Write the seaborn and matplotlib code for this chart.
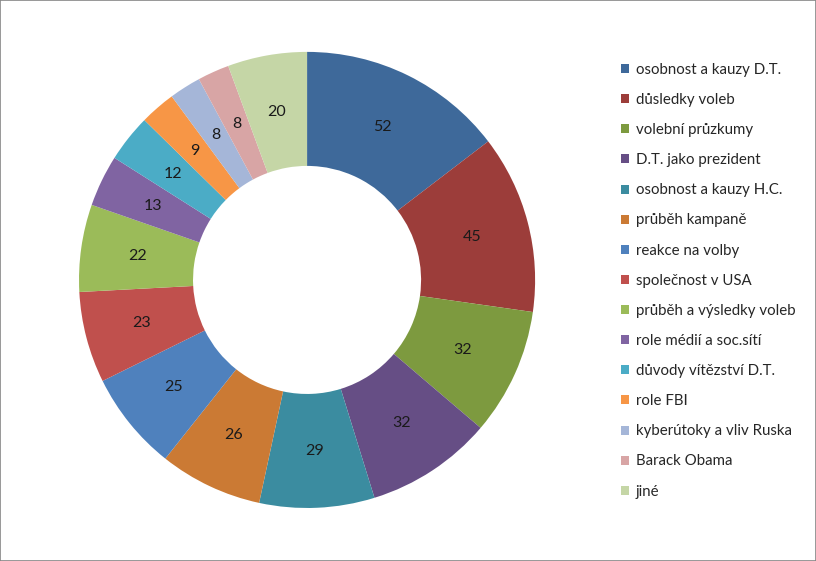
import matplotlib
matplotlib.use("Agg")
import matplotlib.pyplot as plt
from matplotlib.patches import Patch, Rectangle
import numpy as np
import seaborn as sns

categories = ["osobnost a kauzy D.T.", "důsledky voleb", "volební průzkumy",
              "D.T. jako prezident", "osobnost a kauzy H.C.", "průběh kampaně",
              "reakce na volby", "společnost v USA", "průběh a výsledky voleb",
              "role médií a soc.sítí", "důvody vítězství D.T.", "role FBI",
              "kyberútoky a vliv Ruska", "Barack Obama", "jiné"]
values = [52, 45, 32, 32, 29, 26, 25, 23, 22, 13, 12, 9, 8, 8, 20]
colors = ["#3E699A", "#9C3D3A", "#7D9A3F", "#664E85", "#3B8CA0", "#CB7A34",
          "#4F81BD", "#C0504D", "#9BBB59", "#8064A2", "#4BACC6", "#F79646",
          "#A5B6D8", "#D8A5A5", "#C5D6A6"]

sns.set_style("white")
plt.rcParams['font.family'] = ['Lato', 'DejaVu Sans']
palette = sns.color_palette(colors)

fig = plt.figure(figsize=(8.16, 5.61), dpi=100)
ax = fig.add_axes([0.0968, 0.0945, 0.559, 0.813])
wedges, texts = ax.pie(values, colors=palette, startangle=90, counterclock=False,
                       radius=1.0, wedgeprops=dict(width=0.5, linewidth=0))
total = sum(values)
cum = 0
for v in values:
    mid = 90 - (cum + v / 2) / total * 360
    cum += v
    r = 0.75
    ax.text(r * np.cos(np.radians(mid)), r * np.sin(np.radians(mid)), str(v),
            ha="center", va="center", fontsize=11.5, color="#1a1a1a")
ax.set_xlim(-1, 1)
ax.set_ylim(-1, 1)
ax.set_aspect("equal")
ax.axis("off")

handles = [Patch(facecolor=c, edgecolor="none") for c in palette]
fig.legend(handles, categories, loc="upper left", bbox_to_anchor=(0.761, 0.888),
           frameon=False, fontsize=10.8, labelspacing=1.075, handlelength=0.55,
           handleheight=0.55, handletextpad=0.45, borderaxespad=0, borderpad=0)

fig.patches.append(Rectangle((0, 0), 1, 1, transform=fig.transFigure, fill=False,
                             edgecolor="#868686", linewidth=1.2))
fig.savefig("out.png", dpi=100)
